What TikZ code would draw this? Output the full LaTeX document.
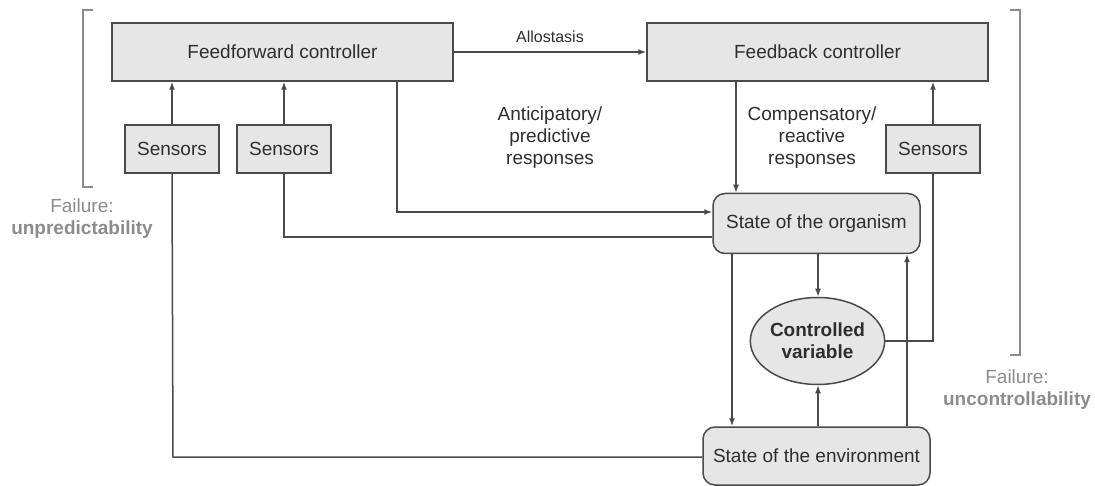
\documentclass[tikz,border=0pt]{standalone}
\usepackage{fontspec}
\setmainfont{Liberation Sans}
\usetikzlibrary{shapes.geometric,arrows.meta}
\definecolor{boxfill}{HTML}{E6E6E6}
\definecolor{boxline}{HTML}{4A4A4A}
\definecolor{txt}{HTML}{2E2E2E}
\definecolor{fail}{HTML}{8C8C8C}
\begin{document}
\begin{tikzpicture}[x=1pt,y=-1pt,
  every node/.style={text=txt,font=\fontsize{19}{22}\selectfont,inner sep=0pt,align=center},
  ctrl/.style={draw=boxline,fill=boxfill,line width=1.5pt,minimum width=341pt,minimum height=58pt},
  sensbox/.style={draw=boxline,fill=boxfill,line width=1.5pt,minimum width=94pt,minimum height=48pt},
  statebox/.style={draw=boxline,fill=boxfill,line width=1.5pt,rounded corners=12pt,minimum height=60pt},
  cvar/.style={ellipse,draw=boxline,fill=boxfill,line width=1.5pt,minimum width=129pt,minimum height=87pt},
  arr/.style={draw=boxline,line width=1.5pt,-{Latex[length=8pt,width=6pt]}},
  ln/.style={draw=boxline,line width=1.5pt},
  brk/.style={draw=fail,line width=1.3pt},
  failtxt/.style={text=fail}
]
\useasboundingbox (0,0) rectangle (1095,486);

% nodes
\node[ctrl] (ff) at (282.5,52) {Feedforward controller};
\node[ctrl] (fb) at (817.5,52) {Feedback controller};
\node[sensbox] (s1) at (172,149) {Sensors};
\node[sensbox] (s2) at (284,149) {Sensors};
\node[sensbox] (s3) at (933,149) {Sensors};
\node[statebox,minimum width=207pt] (org) at (816.5,223.5) {State of the organism};
\node[cvar] (cv) at (817.5,341) {\textbf{Controlled}\\\textbf{variable}};
\node[statebox,minimum width=227pt,minimum height=58pt] (env) at (816.5,456) {State of the environment};

% labels
\node[font=\fontsize{16}{18}\selectfont] (allo) at (550,37) {Allostasis};
\node (antic) at (550,138) {Anticipatory/\\predictive\\responses};
\node (comp) at (812,138) {Compensatory/\\reactive\\responses};
\node[failtxt] (f1) at (82,219) {Failure:\\\textbf{unpredictability}};
\node[failtxt] (f2) at (1017,390) {Failure:\\\textbf{uncontrollability}};

% helper coordinates
\coordinate (k1) at (397,212);
\coordinate (k2) at (284,237);
\coordinate (k3) at (173,457);
\coordinate (xo1) at (732,0);
\coordinate (xo2) at (907,0);
\coordinate (xfb) at (736,0);
\coordinate (xcv) at (818,0);

% connectors
\draw[arr] (ff.east) -- (fb.west);
\draw[arr] (s1.north) -- (s1.north |- ff.south);
\draw[arr] (s2.north) -- (s2.north |- ff.south);
\draw[arr] (s3.north) -- (s3.north |- fb.south);
\draw[arr] (ff.south -| k1) -- (k1) -- (k1 -| org.west);
\draw[ln] (s2.south) -- (k2) -- (k2 -| org.west);
\draw[ln] (s1.south) -- (k3) -- (k3 -| env.west);
\draw[arr] (fb.south -| xfb) -- (xfb |- org.north);
\draw[ln] (s3.south) -- (s3.south |- cv.east) -- (cv.east);
\draw[arr] (org.south -| xcv) -- (xcv |- cv.north);
\draw[arr] (env.north -| xcv) -- (xcv |- cv.south);
\draw[arr] (org.south -| xo1) -- (xo1 |- env.north);
\draw[arr] (env.north -| xo2) -- (xo2 |- org.south);

% brackets
\draw[brk] (93,10) -- (83,10) -- (83,187) -- (93,187);
\draw[brk] (1010,10) -- (1020,10) -- (1020,355) -- (1010,355);
\end{tikzpicture}
\end{document}
